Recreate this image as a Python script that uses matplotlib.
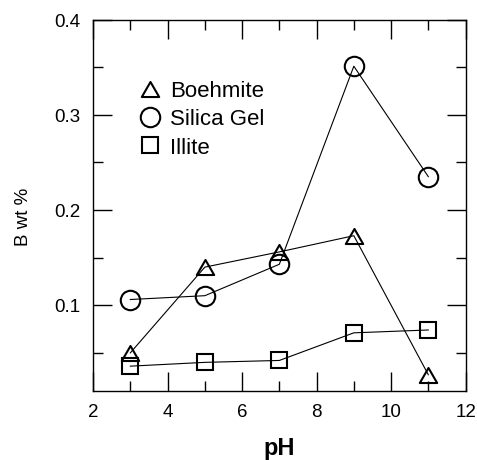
import matplotlib
matplotlib.use("Agg")
import matplotlib.pyplot as plt
from matplotlib.path import Path
from matplotlib.lines import Line2D
from matplotlib.ticker import MultipleLocator

plt.rcParams['font.family'] = ['Liberation Sans', 'DejaVu Sans']

ph = [3, 5, 7, 9, 11]
boehmite = [0.050, 0.140, 0.156, 0.173, 0.027]
silica_gel = [0.106, 0.110, 0.143, 0.351, 0.235]
illite = [0.036, 0.040, 0.042, 0.071, 0.074]
series_names = ["Boehmite", "Silica Gel", "Illite"]

tri = Path([(-1, -0.866), (1, -0.866), (0, 0.866), (-1, -0.866)],
           [Path.MOVETO, Path.LINETO, Path.LINETO, Path.CLOSEPOLY])

fig = plt.figure(figsize=(4.775, 4.605), dpi=100)
ax = fig.add_axes([0.195, 0.15, 0.78, 0.8065])

styles = [(boehmite, tri, 12.5), (silica_gel, 'o', 14), (illite, 's', 11.5)]
handles = []
for (vals, mk, ms), name in zip(styles, series_names):
    ax.plot(ph, vals, color='black', lw=0.8, marker=mk, ms=ms,
            mfc='none', mec='black', mew=1.5)
    handles.append(Line2D([], [], ls='none', marker=mk, ms=ms, mfc='none',
                          mec='black', mew=1.5, label=name))

ax.set_xlim(2, 12)
ax.set_ylim(0.01, 0.4)
ax.xaxis.set_major_locator(MultipleLocator(2))
ax.xaxis.set_minor_locator(MultipleLocator(1))
ax.yaxis.set_minor_locator(MultipleLocator(0.05))
ax.set_yticks([0.1, 0.2, 0.3, 0.4])
ax.set_yticklabels(['0.1', '0.2', '0.3', '0.4'])

ax.tick_params(which='both', direction='in', top=True, right=True, width=1)
ax.tick_params(which='major', length=13.5, labelsize=13.5, pad=9)
ax.tick_params(which='minor', length=7)
for s in ax.spines.values():
    s.set_linewidth(1.0)

ax.set_xlabel('pH', fontsize=17, fontweight='bold')
ax.xaxis.label.set_va('center')
ax.xaxis.set_label_coords(0.5, -0.154)
ax.set_ylabel('B wt %', fontsize=13.5)
ax.yaxis.label.set_va('center')
ax.yaxis.set_label_coords(-0.186, 0.469)

ax.legend(handles=handles, loc='upper left', frameon=False, fontsize=16,
          handlelength=0.8, handletextpad=0.5, labelspacing=0.33,
          borderpad=0, borderaxespad=0,
          bbox_to_anchor=(141 / 477, 1 - 81 / 460), bbox_transform=fig.transFigure)

fig.savefig('out.png', dpi=100)
